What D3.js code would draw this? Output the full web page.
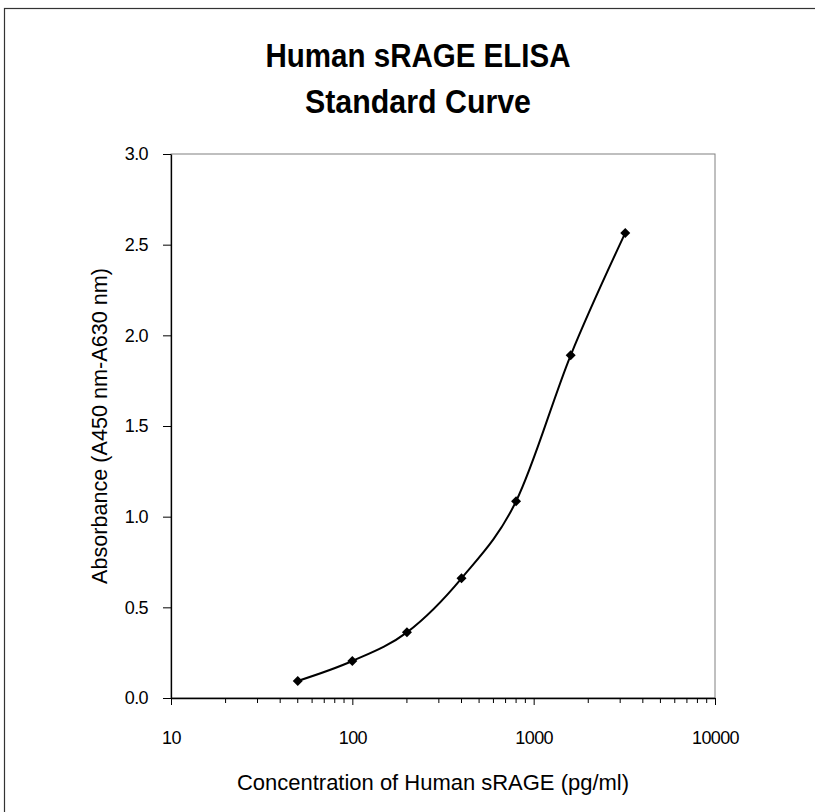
<!DOCTYPE html>
<html><head><meta charset="utf-8">
<script src="https://cdn.jsdelivr.net/npm/d3@7"></script>
<style>body{margin:0;background:#fff}svg{display:block}</style>
</head><body>
<svg id="c" width="815" height="812"></svg>
<script>
const concentrations = [50, 100, 200, 400, 800, 1600, 3200];
const absorbance = [0.094, 0.204, 0.362, 0.66, 1.085, 1.89, 2.565];
const xTicks = [10, 100, 1000, 10000];
const yTicks = [0, 0.5, 1.0, 1.5, 2.0, 2.5, 3.0];
const titleLines = ["Human sRAGE ELISA", "Standard Curve"];
const xLabel = "Concentration of Human sRAGE (pg/ml)";
const yLabel = "Absorbance (A450 nm-A630 nm)";

const svg = d3.select("#c");
const font = "'Liberation Sans', Arial, sans-serif";
const L = 171, R = 715, T = 154, B = 698;

svg.append("rect").attr("x", 4.5).attr("y", 8.5).attr("width", 830).attr("height", 830)
  .attr("fill", "none").attr("stroke", "#333").attr("stroke-width", 1.2);

const x = d3.scaleLog().domain([10, 10000]).range([L, R]);
const y = d3.scaleLinear().domain([0, 3]).range([B, T]);

svg.append("rect").attr("x", L).attr("y", T).attr("width", R - L).attr("height", B - T)
  .attr("fill", "none").attr("stroke", "#808080").attr("stroke-width", 1);

const minor = [];
for (let d = 10; d < 10000; d *= 10) for (let k = 2; k <= 9; k++) minor.push(d * k);
svg.append("g").selectAll("line").data(minor).join("line")
  .attr("x1", d => x(d)).attr("x2", d => x(d)).attr("y1", B).attr("y2", B + 5)
  .attr("stroke", "#000").attr("stroke-width", 1);

const xAxis = svg.append("g").attr("transform", `translate(0,${B})`)
  .call(d3.axisBottom(x).tickValues(xTicks).tickFormat(d3.format("d")).tickSize(7).tickSizeOuter(0).tickPadding(26));
xAxis.select(".domain").attr("stroke", "#000").attr("stroke-width", 1.3);
xAxis.selectAll(".tick line").attr("stroke", "#000");
xAxis.selectAll("text").attr("font-family", font).attr("font-size", 18).attr("letter-spacing", -0.6).attr("fill", "#000");

const yAxis = svg.append("g").attr("transform", `translate(${L},0)`)
  .call(d3.axisLeft(y).tickValues(yTicks).tickFormat(d3.format(".1f")).tickSize(8).tickSizeOuter(0).tickPadding(15));
yAxis.select(".domain").attr("stroke", "#000").attr("stroke-width", 1.3);
yAxis.selectAll(".tick line").attr("stroke", "#000");
yAxis.selectAll("text").attr("font-family", font).attr("font-size", 18).attr("letter-spacing", -0.6).attr("fill", "#000");

const data = concentrations.map((c, i) => [c, absorbance[i]]);
svg.append("path").datum(data)
  .attr("d", d3.line().x(d => x(d[0])).y(d => y(d[1])).curve(d3.curveCatmullRom.alpha(0)))
  .attr("fill", "none").attr("stroke", "#000").attr("stroke-width", 2);

svg.append("g").selectAll("path").data(data).join("path")
  .attr("transform", d => `translate(${x(d[0])},${y(d[1])})`)
  .attr("d", "M0,-5L5,0L0,5L-5,0Z").attr("fill", "#000");

const titleW = [305, 226];
svg.append("g").selectAll("text").data(titleLines).join("text")
  .attr("x", 418).attr("y", (d, i) => 67 + i * 46)
  .attr("text-anchor", "middle").attr("font-family", font).attr("font-weight", "bold")
  .attr("font-size", 34).attr("textLength", (d, i) => titleW[i]).attr("lengthAdjust", "spacingAndGlyphs").text(d => d);

svg.append("text").attr("x", 433).attr("y", 790).attr("text-anchor", "middle")
  .attr("font-family", font).attr("font-size", 22).attr("textLength", 392).attr("lengthAdjust", "spacingAndGlyphs").text(xLabel);

svg.append("text").attr("transform", "translate(107,426) rotate(-90)").attr("text-anchor", "middle")
  .attr("font-family", font).attr("font-size", 22).attr("textLength", 316).attr("lengthAdjust", "spacingAndGlyphs").text(yLabel);
</script>
</body></html>
